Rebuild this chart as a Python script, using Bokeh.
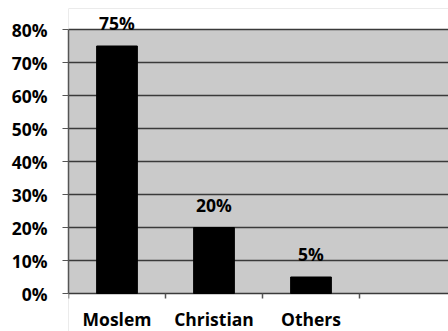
from bokeh.plotting import figure
from bokeh.models import Range1d, FixedTicker, Label, BoxAnnotation
from bokeh.embed import file_html
from bokeh.resources import INLINE

# Religion shares
categories = ["Moslem", "Christian", "Others"]
shares = [0.75, 0.20, 0.05]
share_labels = ["75%", "20%", "5%"]
y_ticks = [0.0, 0.1, 0.2, 0.3, 0.4, 0.5, 0.6, 0.7, 0.8]
y_tick_labels = ["0%", "10%", "20%", "30%", "40%", "50%", "60%", "70%", "80%"]

FONT = "Open Sans"
FSIZE = "17.5px"
AXIS_COLOR = "#555555"

Y_MAX = 0.8          # top of the shaded value area
PX_PER_UNIT = 330    # vertical scale: 264 px for 0..80 %
HEADROOM_PX = 21     # white room above the value area for the tallest label
FOOT_PX = 38         # white room below zero for the category names

# one slot per category, plus an empty fourth slot partly visible at the right
n_slots = len(categories) + 1
x_pos = [i + 0.5 for i in range(len(categories))]
slot_edges = list(range(n_slots))
y_start = -FOOT_PX / PX_PER_UNIT
y_end = Y_MAX + HEADROOM_PX / PX_PER_UNIT

p = figure(width=448, height=331, output_backend="svg", toolbar_location=None,
           x_range=Range1d(0, 380 / 97), y_range=Range1d(y_start, y_end),
           min_border_left=68, min_border_right=0,
           min_border_top=29 - HEADROOM_PX, min_border_bottom=0)
p.background_fill_color = "#cacaca"
p.border_fill_color = "white"
p.outline_line_color = None

# white strips above 80 % and below 0 %, so the grey covers only the value area
for kw in (dict(bottom=Y_MAX), dict(top=0)):
    p.add_layout(BoxAnnotation(**kw, fill_color="white", fill_alpha=1.0,
                               line_color=None, level="image"))

p.vbar(x=x_pos, top=shares, bottom=0, width=0.42,
       fill_color="black", line_color="black")

# short tick marks on the slot boundaries below the baseline
p.segment(x0=slot_edges, y0=[0] * n_slots, x1=slot_edges,
          y1=[-5 / PX_PER_UNIT] * n_slots, line_color=AXIS_COLOR, line_width=1.5)

# value labels above the bars
for x, y, txt in zip(x_pos, shares, share_labels):
    p.add_layout(Label(x=x, y=y, text=txt, y_offset=23,
                       text_align="center", text_baseline="alphabetic",
                       text_font=FONT, text_font_size=FSIZE,
                       text_font_style="bold", text_color="black"))

# category names under the slots
for x, name in zip(x_pos, categories):
    p.add_layout(Label(x=x, y=0, text=name, y_offset=-25,
                       text_align="center", text_baseline="alphabetic",
                       text_font=FONT, text_font_size=FSIZE,
                       text_font_style="bold", text_color="black"))

# y axis
p.yaxis.ticker = FixedTicker(ticks=y_ticks)
p.yaxis.bounds = (0, Y_MAX)
p.yaxis.major_label_overrides = {t: l for t, l in zip(y_ticks, y_tick_labels)}
p.yaxis.major_tick_out = 6
p.yaxis.major_tick_in = 0
p.yaxis.minor_tick_line_color = None
p.yaxis.axis_line_color = AXIS_COLOR
p.yaxis.axis_line_width = 1.5
p.yaxis.major_tick_line_color = AXIS_COLOR
p.yaxis.major_label_standoff = 15
p.yaxis.major_label_text_font = FONT
p.yaxis.major_label_text_font_size = FSIZE
p.yaxis.major_label_text_font_style = "bold"
p.yaxis.major_label_text_color = "black"

# the x axis is drawn by the zero grid line, the ticks and the names above
p.xaxis.visible = False

# grid
p.xgrid.grid_line_color = None
p.ygrid.ticker = FixedTicker(ticks=y_ticks)
p.ygrid.grid_line_color = "#3a3a3a"
p.ygrid.grid_line_width = 1.5

open("out.html", "w").write(file_html(p, INLINE))
